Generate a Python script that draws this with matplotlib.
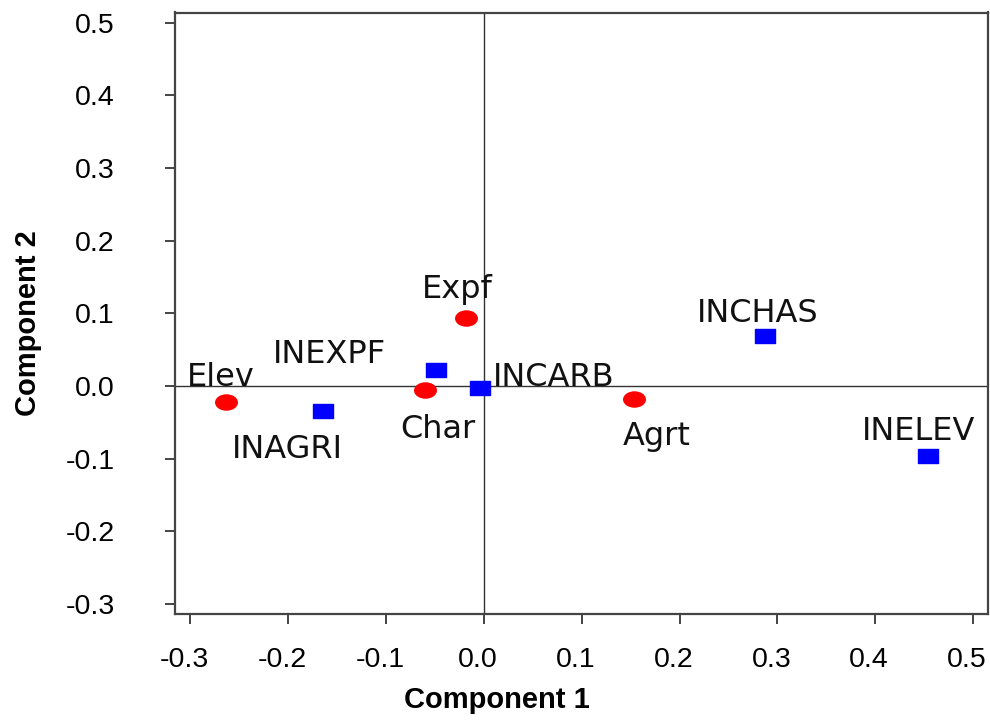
import numpy as np
import matplotlib
matplotlib.use("Agg")
import matplotlib.pyplot as plt
from matplotlib.path import Path
from matplotlib.transforms import Affine2D, ScaledTranslation

# ── data ──────────────────────────────────────────────────────
var_names = ["Elev", "Char", "Expf", "Agrt"]
var_c1    = [-0.264, -0.060, -0.018, 0.153]
var_c2    = [-0.022, -0.006, 0.093, -0.018]

ind_names = ["INAGRI", "INEXPF", "INCARB", "INCHAS", "INELEV"]
ind_c1    = [-0.164, -0.049, -0.004, 0.287, 0.454]
ind_c2    = [-0.034, 0.022, -0.003, 0.069, -0.096]

ticks_x = [-0.3, -0.2, -0.1, 0.0, 0.1, 0.2, 0.3, 0.4, 0.5]
ticks_y = [-0.3, -0.2, -0.1, 0.0, 0.1, 0.2, 0.3, 0.4, 0.5]

# label offsets from the point (pixels, left/baseline of the text)
var_off = [(-39, 16), (-25, -48), (-44, 20), (-11, -46)]
ind_off = [(-92, -47), (-163, 7), (13, 2), (-68, 14), (-66, 16)]

red   = "#ff0000"
blue  = "#0000ff"
frame = "#444444"
ink   = "#111111"

ellipse = Path.unit_circle().transformed(Affine2D().scale(1.0, 0.7))
rect = Path([(-1, -0.7), (1, -0.7), (1, 0.7), (-1, 0.7), (-1, -0.7)],
            [Path.MOVETO, Path.LINETO, Path.LINETO, Path.LINETO, Path.CLOSEPOLY])

fig = plt.figure(figsize=(9.9, 7.25), dpi=100, facecolor="white")
ax = fig.add_axes([175 / 990, 1 - 614 / 725, (988 - 175) / 990, (614 - 12.5) / 725])

ax.axhline(0, color="#333333", lw=1.0, zorder=1)
ax.axvline(0, color="#333333", lw=1.0, zorder=1)

ax.plot(var_c1, var_c2, ls="none", marker=ellipse, ms=15.5,
        mfc=red, mec=red, zorder=3)
ax.plot(ind_c1, ind_c2, ls="none", marker=rect, ms=14.5,
        mfc=blue, mec=blue, zorder=3)

lab_font = dict(family="DejaVu Sans", fontsize=23, color=ink,
                ha="left", va="baseline")
for name, x, y, off in zip(var_names, var_c1, var_c2, var_off):
    ax.annotate(name, (x, y), xytext=off, textcoords="offset pixels", **lab_font)
for name, x, y, off in zip(ind_names, ind_c1, ind_c2, ind_off):
    ax.annotate(name, (x, y), xytext=off, textcoords="offset pixels", **lab_font)

ax.set_xlim(-0.3158, 0.5153)
ax.set_ylim(-0.3138, 0.5138)
ax.set_xticks(ticks_x)
ax.set_yticks(ticks_y)
ax.set_xticklabels([f"{v:.1f}" for v in ticks_x])
ax.set_yticklabels([f"{v:.1f}" for v in ticks_y])

for s in ax.spines.values():
    s.set_color(frame)
    s.set_linewidth(1.6)
ax.tick_params(axis="both", direction="out", length=7.5, width=1.4,
               color=frame, labelcolor="black", labelsize=20.5)
ax.tick_params(axis="x", pad=16)
ax.tick_params(axis="y", pad=36)

# x tick labels sit a few pixels left of their ticks in the original
shift = ScaledTranslation(-6 / 100, 0, fig.dpi_scale_trans)
for lbl in ax.get_xticklabels():
    lbl.set_transform(lbl.get_transform() + shift)
for lbl in ax.get_xticklabels() + ax.get_yticklabels():
    lbl.set_family("Liberation Sans")

fig.text(497 / 990, 1 - 708 / 725, "Component 1", ha="center", va="baseline",
         fontsize=21, fontweight="bold", family="Liberation Sans")
fig.text(28 / 990, 1 - 323 / 725, "Component 2", ha="center", va="center",
         rotation=90, fontsize=21, fontweight="bold", family="Liberation Sans")

fig.savefig("out.png", dpi=100, facecolor="white")
